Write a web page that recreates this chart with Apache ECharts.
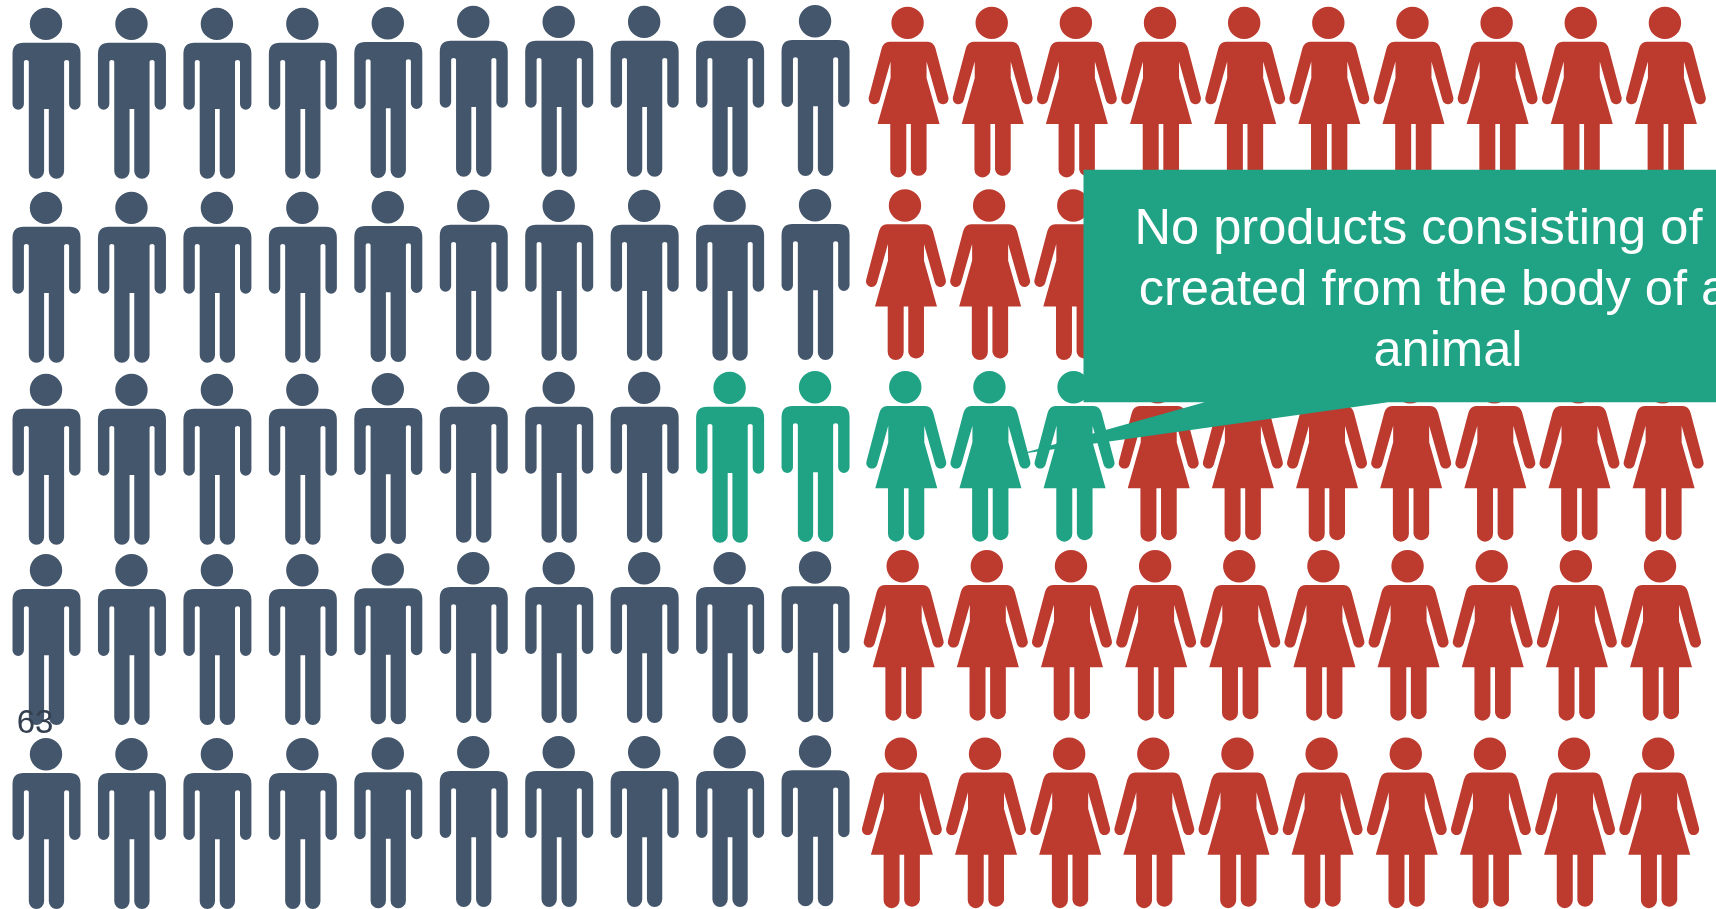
<!DOCTYPE html>
<html>
<head>
<meta charset="utf-8">
<title>Pictogram of people</title>
<style>
  html, body { margin: 0; padding: 0; background: #ffffff; }
  #chart { width: 1716px; height: 909px; }
</style>
<script src="https://cdn.jsdelivr.net/npm/echarts@6/dist/echarts.min.js"></script>
</head>
<body>
<div id="chart"></div>
<script>
// One figure per cell: ten columns of men, ten of women, five rows.
const rows = [0, 1, 2, 3, 4];
const menColumns = [0, 1, 2, 3, 4, 5, 6, 7, 8, 9];
const womenColumns = [10, 11, 12, 13, 14, 15, 16, 17, 18, 19];

// The cells picked out in green.
const highlightRow = 2;
const highlightMenColumns = [8, 9];
const highlightWomenColumns = [10, 11, 12];

const calloutLines = [
  'No products consisting of or',
  'created from the body of an',
  'animal'
];
const pageNumber = '63';

// Small hand-placement offsets of the figures, in pixels.
const menColumnNudgeY = [0, 0, 0, 0, -0.7, -2, -2, -2, -2, -2.7];
const menRowNudgeY = [0, 1.5, 1, -1.2, 0.3];
const womenRowNudgeX = [0, -2.6, -2.3, -4.9, -6.7];
const womenRowNudgeY = [-1.15, -1.05, -1.85, -5.35, -0.35];

const COLORS = { man: '#44566b', woman: '#bd3a2f', highlight: '#20a285', note: '#34404f' };

const MAN_PATH = 'path://' +
  'M17.3 16.2A16.2 16.2 0 1 1 49.7 16.2A16.2 16.2 0 1 1 17.3 16.2Z' +
  'M11 35L57 35Q68 35 68 46L68 96.2A5.7 5.7 0 0 1 56.6 96.2L56.6 54Q56.6 52.3 54.1 52.3Q51.6 52.3 51.6 54' +
  'L51.6 163.3A7.65 7.65 0 0 1 36.3 163.3L36.3 101.3L31.6 101.3L31.6 163.3A7.65 7.65 0 0 1 16.3 163.3' +
  'L16.3 54Q16.3 52.3 13.8 52.3Q11.4 52.3 11.4 54L11.4 96.2A5.7 5.7 0 0 1 0 96.2L0 46Q0 35 11 35Z';

const WOMAN_PATH = 'path://' +
  'M22.8 16.2A16.2 16.2 0 1 1 55.2 16.2A16.2 16.2 0 1 1 22.8 16.2Z' +
  'M21 35L59 35Q65 35 67 42L79.8 90.5A5.6 5.6 0 0 1 69 93.5L58 54.7L58 71.3L71 117.3L58 117.3L58 162.7' +
  'A8 8 0 0 1 42.3 162.7L42.3 117.3L37.7 117.3L37.7 162.7A8 8 0 0 1 21.7 162.7L21.7 117.3L9 117.3' +
  'L22 71.3L22 54.7L11 93.5A5.6 5.6 0 0 1 0.2 90.5L13 42Q15 35 21 35Z';

const MAN_SIZE = [68, 171];
const WOMAN_SIZE = [80, 170.7];

function manPoint(col, row) {
  return { value: [col, row], symbolOffset: [0, menRowNudgeY[row] + menColumnNudgeY[col]] };
}
function womanPoint(col, row) {
  return { value: [col, row], symbolOffset: [womenRowNudgeX[row], womenRowNudgeY[row]] };
}
function cells(columns, make, keep) {
  const out = [];
  rows.forEach(function (row) {
    columns.forEach(function (col) {
      if (keep(col, row)) out.push(make(col, row));
    });
  });
  return out;
}
function isHighlighted(list) {
  return function (col, row) { return row === highlightRow && list.indexOf(col) >= 0; };
}
function isPlain(list) {
  const picked = isHighlighted(list);
  return function (col, row) { return !picked(col, row); };
}

function figureSeries(name, axisIndex, path, size, color, data) {
  return {
    name: name,
    type: 'scatter',
    xAxisIndex: axisIndex,
    yAxisIndex: axisIndex,
    symbol: path,
    symbolSize: size,
    itemStyle: { color: color, opacity: 1 },
    silent: true,
    animation: false,
    clip: false,
    data: data
  };
}

function hiddenAxis(gridIndex, min, max, inverse) {
  return { type: 'value', gridIndex: gridIndex, min: min, max: max, inverse: !!inverse, show: false, scale: false };
}

const chart = echarts.init(document.getElementById('chart'), null, { renderer: 'canvas' });
chart.setOption({
  backgroundColor: '#ffffff',
  animation: false,
  // The last row runs slightly past the bottom edge, so the grids must keep their full size.
  grid: [
    { left: 3.78, top: 1.95, width: 854.5, height: 912.5, outerBoundsMode: 'none', containLabel: false },
    { left: 866.5, top: 1.95, width: 841.5, height: 912.5, outerBoundsMode: 'none', containLabel: false }
  ],
  xAxis: [hiddenAxis(0, -0.5, 9.5), hiddenAxis(1, 9.5, 19.5)],
  yAxis: [hiddenAxis(0, -0.5, 4.5, true), hiddenAxis(1, -0.5, 4.5, true)],
  series: [
    figureSeries('Men', 0, MAN_PATH, MAN_SIZE, COLORS.man,
      cells(menColumns, manPoint, isPlain(highlightMenColumns))),
    figureSeries('Women', 1, WOMAN_PATH, WOMAN_SIZE, COLORS.woman,
      cells(womenColumns, womanPoint, isPlain(highlightWomenColumns))),
    figureSeries('Men, highlighted', 0, MAN_PATH, MAN_SIZE, COLORS.highlight,
      cells(menColumns, manPoint, isHighlighted(highlightMenColumns))),
    figureSeries('Women, highlighted', 1, WOMAN_PATH, WOMAN_SIZE, COLORS.highlight,
      cells(womenColumns, womanPoint, isHighlighted(highlightWomenColumns)))
  ],
  graphic: [
    {
      type: 'polygon',
      z: 100,
      silent: true,
      shape: {
        points: [
          [1083.5, 169.7], [1716, 169.7], [1716, 402.3], [1388, 402.3],
          [1020, 454], [1204.6, 402.3], [1083.5, 402.3]
        ]
      },
      style: { fill: COLORS.highlight }
    },
    {
      type: 'text',
      z: 101,
      silent: true,
      style: {
        x: 1448,
        y: 291.5,
        text: calloutLines.join('\n'),
        fill: '#ffffff',
        font: '50.6px "Liberation Sans", Arial, sans-serif',
        lineHeight: 61,
        align: 'center',
        verticalAlign: 'middle'
      }
    },
    {
      type: 'text',
      z: 102,
      silent: true,
      style: {
        x: 35,
        y: 723.5,
        text: pageNumber,
        fill: COLORS.note,
        font: '33px "Liberation Sans", Arial, sans-serif',
        align: 'center',
        verticalAlign: 'middle'
      }
    }
  ]
});
</script>
</body>
</html>
